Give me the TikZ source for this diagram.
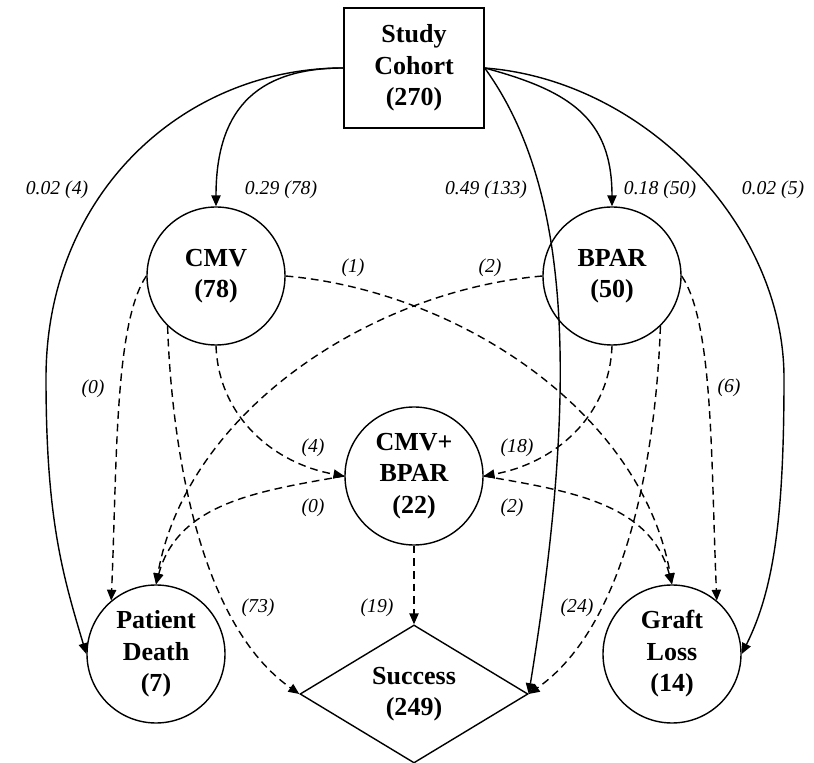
\documentclass[tikz,border=0pt]{standalone}
\usepackage{fontspec}
\setmainfont{Liberation Serif}
\usetikzlibrary{shapes.geometric,arrows.meta}

\begin{document}
\begin{tikzpicture}[line width=1pt,
  state/.style={circle,draw,minimum size=3.45cm,inner sep=0pt,align=center,
    font=\fontsize{18.5}{22.4}\selectfont\bfseries},
  cohortbox/.style={rectangle,draw,minimum width=3.5cm,minimum height=3cm,inner sep=0pt,
    align=center,font=\fontsize{18.5}{22.4}\selectfont\bfseries},
  goal/.style={diamond,draw,minimum width=5.7cm,minimum height=3.4cm,inner sep=0pt,
    align=center,font=\fontsize{18.5}{22.4}\selectfont\bfseries},
  prob/.style={font=\fontsize{14}{16}\selectfont\itshape,inner sep=1pt},
  flow/.style={-{Triangle[length=2.7mm,width=2.3mm]}},
  hop/.style={flow,dash pattern=on 5.5pt off 3.5pt}]
  \useasboundingbox (0,0) rectangle (20.35,19.05);
  % states
  \node[cohortbox] (cohort) at (10.35,17.35) {Study\\Cohort\\(270)};
  \node[state] (cmv) at (5.4,12.15) {CMV\\(78)};
  \node[state] (bpar) at (15.3,12.15) {BPAR\\(50)};
  \node[state] (both) at (10.35,7.15) {CMV+\\BPAR\\(22)};
  \node[state] (death) at (3.9,2.7) {Patient\\Death\\(7)};
  \node[state] (graft) at (16.8,2.7) {Graft\\Loss\\(14)};
  \node[goal] (success) at (10.35,1.7) {Success\\(249)};
  \coordinate (lbend) at (1.15,9.6);
  \coordinate (rbend) at (19.6,9.6);
  % arcs out of the cohort
  \draw[flow] (cohort.west) .. controls +(-4,0) and +(0,4.6) .. (lbend)
    .. controls +(0,-3.5) and +(-0.6,2) .. (death.west);
  \draw[flow] (cohort.west) to[out=180,in=90,looseness=1.25] (cmv.north);
  \draw[flow] (cohort.east) .. controls +(2.1,-2.9) and +(1.3,8) .. (success.east);
  \draw[flow] (cohort.east) to[out=-15,in=90,looseness=1.2] (bpar.north);
  \draw[flow] (cohort.east) .. controls +(4,-0.3) and +(0,3.8) .. (rbend)
    .. controls +(0,-3.5) and +(0.8,1.6) .. (graft.east);
  % transitions from CMV
  \draw[hop] (cmv.west) .. controls +(-0.8,-1.2) and +(0.15,3.5) .. (death.130);
  \draw[hop] (cmv.-134) to[out=-88,in=145,looseness=0.8] (success.west);
  \draw[hop] (cmv.south) to[out=-88,in=170] (both.west);
  \draw[hop] (cmv.east) to[out=-5,in=100,looseness=0.9] (graft.north);
  % transitions from BPAR
  \draw[hop] (bpar.west) to[out=-175,in=80,looseness=0.9] (death.north);
  \draw[hop] (bpar.south) to[out=-92,in=10] (both.east);
  \draw[hop] (bpar.-46) to[out=-92,in=35,looseness=0.8] (success.east);
  \draw[hop] (bpar.east) .. controls +(0.8,-1.2) and +(-0.15,3.5) .. (graft.50);
  % transitions from CMV+BPAR
  \draw[hop] (both.west) to[out=190,in=75] (death.north);
  \draw[hop] (both.east) to[out=-10,in=105] (graft.north);
  \draw[hop] (both.south) -- (success.north);
  % labels
  \node[prob] (p1) at (1.425,14.3) {0.02 (4)};
  \node[prob] (p2) at (7.025,14.3) {0.29 (78)};
  \node[prob] (p3) at (12.15,14.3) {0.49 (133)};
  \node[prob] (p4) at (16.5,14.3) {0.18 (50)};
  \node[prob] (p5) at (19.325,14.3) {0.02 (5)};
  \node[prob] (n1) at (8.825,12.35) {(1)};
  \node[prob] (n2) at (12.25,12.35) {(2)};
  \node[prob] (n3) at (2.325,9.33) {(0)};
  \node[prob] (n4) at (18.225,9.35) {(6)};
  \node[prob] (n5) at (7.825,7.85) {(4)};
  \node[prob] (n6) at (7.825,6.35) {(0)};
  \node[prob] (n7) at (12.925,7.85) {(18)};
  \node[prob] (n8) at (12.8,6.35) {(2)};
  \node[prob] (n9) at (6.45,3.85) {(73)};
  \node[prob] (n10) at (9.425,3.85) {(19)};
  \node[prob] (n11) at (14.425,3.85) {(24)};
\end{tikzpicture}
\end{document}
